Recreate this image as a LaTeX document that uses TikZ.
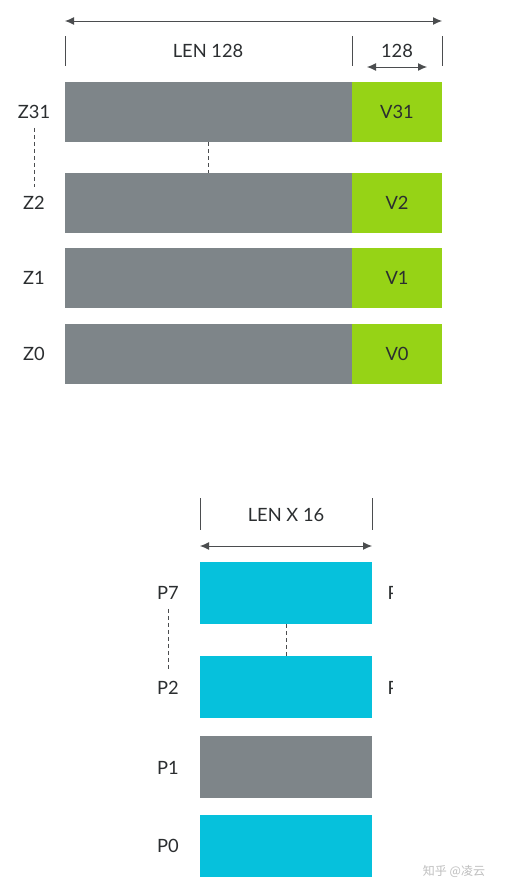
\documentclass[tikz,border=0pt]{standalone}
\usepackage{fontspec}
\setmainfont{Lato}
\newfontfamily\cjk{Noto Sans CJK SC}
\usetikzlibrary{arrows.meta}
\definecolor{bargray}{HTML}{7E8589}
\definecolor{bargreen}{HTML}{96D316}
\definecolor{barcyan}{HTML}{06C1DC}
\definecolor{inkc}{HTML}{2B2E30}
\begin{document}
\begin{tikzpicture}[x=1pt,y=-1pt,
  bar/.style={inner sep=0pt,outer sep=0pt,anchor=north west,text=inkc,font=\fontsize{18.3}{21}\selectfont},
  lbl/.style={inner sep=0pt,text=inkc,font=\fontsize{18.3}{21}\selectfont},
  tick/.style={draw=inkc!85,line width=1pt},
  dim/.style={draw=inkc!85,line width=1pt,{Latex[length=9pt,width=8pt]}-{Latex[length=9pt,width=8pt]}},
  dashline/.style={draw=inkc!85,line width=0.8pt,dash pattern=on 4pt off 3pt}]
\useasboundingbox (0,0) rectangle (504,895);
\fill[white] (0,0) rectangle (504,895);
% top dimension lines
\coordinate (ta) at (65,21);
\coordinate (tb) at (442,21);
\draw[dim] (ta) -- (tb);
\coordinate (t1a) at (65,36); \coordinate (t1b) at (65,66);
\coordinate (t2a) at (352,36); \coordinate (t2b) at (352,66);
\coordinate (t3a) at (442,36); \coordinate (t3b) at (442,66);
\draw[tick] (t1a) -- (t1b);
\draw[tick] (t2a) -- (t2b);
\draw[tick] (t3a) -- (t3b);
\node[lbl] (len128) at (208,51) {LEN 128};
\node[lbl] (n128) at (397,51) {128};
\coordinate (sa) at (367,67);
\coordinate (sb) at (427,67);
\draw[dim] (sa) -- (sb);
% Z bars
\node[bar,fill=bargray,minimum width=287pt,minimum height=60pt] (z31g) at (65,82) {};
\node[bar,fill=bargreen,minimum width=90pt,minimum height=60pt] (z31v) at (352,82) {V31};
\node[bar,fill=bargray,minimum width=287pt,minimum height=60pt] (z2g) at (65,173) {};
\node[bar,fill=bargreen,minimum width=90pt,minimum height=60pt] (z2v) at (352,173) {V2};
\node[bar,fill=bargray,minimum width=287pt,minimum height=60pt] (z1g) at (65,248) {};
\node[bar,fill=bargreen,minimum width=90pt,minimum height=60pt] (z1v) at (352,248) {V1};
\node[bar,fill=bargray,minimum width=287pt,minimum height=60pt] (z0g) at (65,324) {};
\node[bar,fill=bargreen,minimum width=90pt,minimum height=60pt] (z0v) at (352,324) {V0};
\node[lbl] (z31l) at (34,112) {Z31};
\node[lbl] (z2l) at (34,203) {Z2};
\node[lbl] (z1l) at (34,278) {Z1};
\node[lbl] (z0l) at (34,354) {Z0};
\draw[dashline] ([yshift=-9pt]z31l.south) -- ([yshift=9pt]z2l.north);
\draw[dashline] (z31g.south) -- (z2g.north);
% bottom dimension
\coordinate (b1a) at (200,498); \coordinate (b1b) at (200,530);
\coordinate (b2a) at (372,498); \coordinate (b2b) at (372,530);
\draw[tick] (b1a) -- (b1b);
\draw[tick] (b2a) -- (b2b);
\node[lbl] (lenx16) at (286,515) {LEN X 16};
\coordinate (ba) at (200,546);
\coordinate (bb) at (372,546);
\draw[dim] (ba) -- (bb);
% P bars
\node[bar,fill=barcyan,minimum width=172pt,minimum height=62pt] (p7) at (200,562) {};
\node[bar,fill=barcyan,minimum width=172pt,minimum height=62pt] (p2) at (200,656) {};
\node[bar,fill=bargray,minimum width=172pt,minimum height=62pt] (p1) at (200,736) {};
\node[bar,fill=barcyan,minimum width=172pt,minimum height=62pt] (p0) at (200,815) {};
\node[lbl] (p7l) at (168,593) {P7};
\node[lbl] (p2l) at (168,688) {P2};
\node[lbl] (p1l) at (168,768) {P1};
\node[lbl] (p0l) at (168,846) {P0};
\draw[dashline] ([yshift=-9pt]p7l.south) -- ([yshift=10pt]p2l.north);
\draw[dashline] (p7.south) -- (p2.north);
% clipped labels at the right edge
\begin{scope}
\clip (380,570) rectangle (392.5,710);
\node[lbl,anchor=west] (p7r) at (387.5,593) {P7};
\node[lbl,anchor=west] (p2r) at (387.5,688) {P2};
\end{scope}
% watermark
\node[inner sep=0pt,text=black!25,font=\cjk\fontsize{12}{14}\selectfont] (wm) at (454,871) {知乎 @凌云};
\end{tikzpicture}
\end{document}
